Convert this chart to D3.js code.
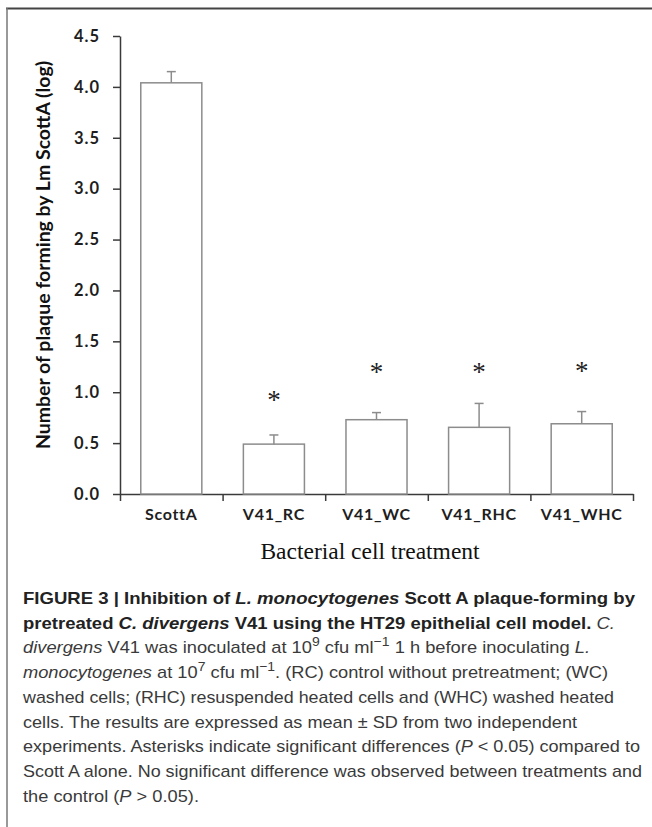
<!DOCTYPE html>
<html lang="en">
<head>
    <meta charset="UTF-8">
    <title>Figure 3 - plaque forming by Lm ScottA</title>
    <script src="https://d3js.org/d3.v7.min.js"></script>
    <style>
        body { margin: 0; background: #fff; }
        .axis path, .axis line { stroke: #3a3a3a; stroke-width: 1.5px; }
        .axis text { font-family: Lato, "Open Sans", sans-serif; font-weight: 700; fill: #1e1e1e; }
        .bar { fill: #fff; stroke: #8c8c8c; stroke-width: 1.5px; }
        .err { stroke: #8c8c8c; stroke-width: 1.5px; }
        .star { font-family: "Liberation Serif", serif; font-size: 27px; fill: #222; }
        .caption { font-family: "Liberation Sans", Arial, sans-serif; font-size: 17px; fill: #3a3a3a; }
        .caption .b { font-weight: 700; fill: #222; }
    </style>
</head>
<body>
<svg width="652" height="827"></svg>
<script>
    // values
    const categories = ["ScottA", "V41_RC", "V41_WC", "V41_RHC", "V41_WHC"];
    const means = [4.04, 0.49, 0.73, 0.655, 0.69];
    const sds = [0.11, 0.09, 0.07, 0.235, 0.12];
    const starLevels = [null, 0.99, 1.27, 1.27, 1.28];   // asterisk heights
    const yTicks = [0, 0.5, 1, 1.5, 2, 2.5, 3, 3.5, 4, 4.5];

    // caption lines: [text, style]
    const captionLines = [
        [["FIGURE 3 | Inhibition of ", "b"], ["L. monocytogenes", "bi"], [" Scott A plaque-forming by", "b"]],
        [["pretreated ", "b"], ["C. divergens", "bi"], [" V41 using the HT29 epithelial cell model.", "b"], [" ", ""], ["C.", "i"]],
        [["divergens", "i"], [" V41 was inoculated at 10", ""], ["9", "sup"], [" cfu ml", ""], ["\u22121", "sup"], [" 1 h before inoculating ", ""], ["L.", "i"]],
        [["monocytogenes", "i"], [" at 10", ""], ["7", "sup"], [" cfu ml", ""], ["\u22121", "sup"], [". (RC) control without pretreatment; (WC)", ""]],
        [["washed cells; (RHC) resuspended heated cells and (WHC) washed heated", ""]],
        [["cells. The results are expressed as mean \u00b1 SD from two independent", ""]],
        [["experiments. Asterisks indicate significant differences (", ""], ["P", "i"], [" < 0.05) compared to", ""]],
        [["Scott A alone. No significant difference was observed between treatments and", ""]],
        [["the control (", ""], ["P", "i"], [" > 0.05).", ""]]
    ];
    const captionWidths = [612, 592, 567, 585, 591, 554, 617, 619, 176];

    const svg = d3.select("svg");

    // frame
    svg.append("line").attr("x1", 6).attr("x2", 652).attr("y1", 8.5).attr("y2", 8.5)
        .attr("stroke", "#444").attr("stroke-width", 2);
    svg.append("line").attr("x1", 7).attr("x2", 7).attr("y1", 8).attr("y2", 827)
        .attr("stroke", "#777").attr("stroke-width", 1.5);

    const plotLeft = 120, plotRight = 633, plotTop = 36, plotBottom = 494;

    const x = d3.scaleBand()
        .domain(categories)
        .range([plotLeft, plotRight])
        .paddingInner(0.405)
        .paddingOuter(0.2025);

    const y = d3.scaleLinear()
        .domain([0, 4.5])
        .range([plotBottom, plotTop]);

    // y axis
    svg.append("g")
        .attr("class", "axis")
        .attr("transform", `translate(${plotLeft},0)`)
        .call(d3.axisLeft(y).tickValues(yTicks).tickFormat(d3.format(".1f"))
            .tickSize(7).tickSizeOuter(0).tickPadding(13))
        .call(g => g.selectAll("text").style("font-size", "16.5px").style("letter-spacing", "1px"));

    // x axis: boundary ticks
    const xb = d3.scaleLinear().domain([0, categories.length]).range([plotLeft, plotRight]);
    svg.append("g")
        .attr("class", "axis")
        .attr("transform", `translate(0,${plotBottom})`)
        .call(d3.axisBottom(xb).ticks(categories.length).tickFormat("").tickSize(7).tickSizeOuter(0));

    // x axis: category labels
    svg.append("g")
        .attr("class", "axis")
        .attr("transform", `translate(0,${plotBottom})`)
        .call(d3.axisBottom(x).tickSize(0).tickPadding(15))
        .call(g => g.select(".domain").remove())
        .call(g => g.selectAll("text").style("font-size", "16px").style("letter-spacing", "0.7px"));

    // bars
    svg.selectAll(".bar")
        .data(categories)
        .enter().append("rect")
        .attr("class", "bar")
        .attr("x", d => x(d))
        .attr("y", (d, i) => y(means[i]))
        .attr("width", x.bandwidth())
        .attr("height", (d, i) => y(0) - y(means[i]));

    // error bars (upper only)
    const capW = 4.5;
    const err = svg.selectAll(".errg")
        .data(categories)
        .enter().append("g");
    err.append("line")
        .attr("class", "err")
        .attr("x1", d => x(d) + x.bandwidth() / 2)
        .attr("x2", d => x(d) + x.bandwidth() / 2)
        .attr("y1", (d, i) => y(means[i]))
        .attr("y2", (d, i) => y(means[i] + sds[i]));
    err.append("line")
        .attr("class", "err")
        .attr("x1", d => x(d) + x.bandwidth() / 2 - capW)
        .attr("x2", d => x(d) + x.bandwidth() / 2 + capW)
        .attr("y1", (d, i) => y(means[i] + sds[i]))
        .attr("y2", (d, i) => y(means[i] + sds[i]));

    // asterisks
    svg.selectAll(".star")
        .data(categories.filter((d, i) => starLevels[i] != null))
        .enter().append("text")
        .attr("class", "star")
        .attr("text-anchor", "middle")
        .attr("x", d => x(d) + x.bandwidth() / 2)
        .attr("y", d => y(starLevels[categories.indexOf(d)]) + 16)
        .text("*");

    // y title
    svg.append("text")
        .attr("transform", `translate(50,255) rotate(-90)`)
        .attr("text-anchor", "middle")
        .attr("textLength", 388)
        .attr("lengthAdjust", "spacingAndGlyphs")
        .style("font-family", "Lato, 'Open Sans', sans-serif")
        .style("font-weight", 700)
        .style("font-size", "19px")
        .style("fill", "#111")
        .text("Number of plaque forming by Lm ScottA (log)");

    // x title
    svg.append("text")
        .attr("x", 370)
        .attr("y", 559)
        .attr("text-anchor", "middle")
        .style("font-family", "'Liberation Serif', 'Times New Roman', serif")
        .style("font-size", "23.5px")
        .style("fill", "#111")
        .text("Bacterial cell treatment");

    // caption
    const cap0 = 604, capStep = 24.7;
    captionLines.forEach((segs, li) => {
        const t = svg.append("text")
            .attr("class", "caption")
            .attr("x", 23)
            .attr("y", cap0 + li * capStep)
            .attr("textLength", captionWidths[li])
            .attr("lengthAdjust", "spacingAndGlyphs");
        segs.forEach(([txt, st]) => {
            const sp = t.append("tspan").text(txt);
            if (st.includes("b")) sp.attr("class", "b");
            if (st.includes("i")) sp.style("font-style", "italic");
            if (st === "sup") sp.attr("baseline-shift", "super").style("font-size", "13px");
        });
    });
</script>
</body>
</html>
